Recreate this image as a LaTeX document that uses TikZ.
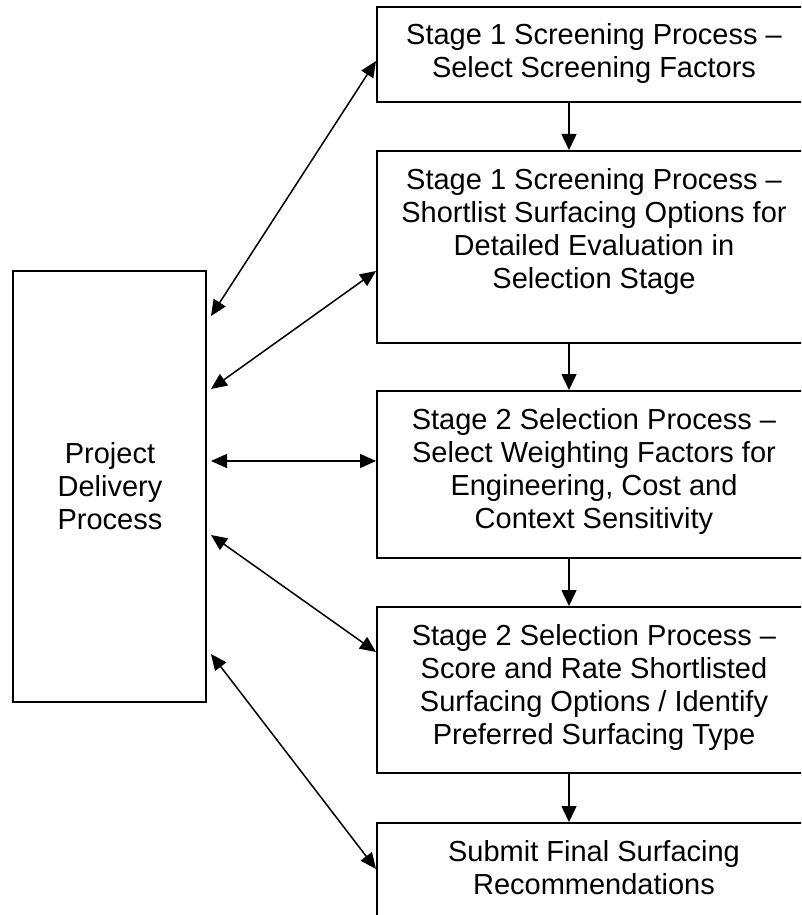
\documentclass[tikz,border=0pt]{standalone}
\usepackage{fontspec}
\setmainfont{Liberation Sans}
\usetikzlibrary{arrows.meta}
\begin{document}
\begin{tikzpicture}[x=1pt,y=-1pt,
  box/.style={draw,line width=2pt,inner sep=0pt,minimum width=434pt},
  lbox/.style={draw,line width=2pt,inner sep=0pt,minimum width=193pt,minimum height=431pt},
  txt/.style={align=center,inner sep=0pt,font=\fontsize{29}{33}\selectfont},
  conn/.style={line width=1.5pt,-{Triangle[length=16pt,width=15pt]}},
  bconn/.style={line width=1.5pt,{Triangle[length=16pt,width=14pt]}-{Triangle[length=16pt,width=14pt]}}]
\useasboundingbox (0,0) rectangle (801,915);
\clip (0,0) rectangle (801,915);
\fill[white] (0,0) rectangle (801,915);
\node[lbox] (L) at (109.5,486.5) {};
\node[txt] (Lt) at (110,486) {Project\\Delivery\\Process};
\node[box,minimum height=95pt] (B1) at (594,54.5) {};
\node[box,minimum height=192pt] (B2) at (594,247) {};
\node[box,minimum height=167pt] (B3) at (594,474.5) {};
\node[box,minimum height=166pt] (B4) at (594,690) {};
\node[box,minimum height=100pt] (B5) at (594,873) {};
\node[txt] (T1) at (594,53.5) {Stage 1 Screening Process –\\Select Screening Factors};
\node[txt] (T2) at (594,231) {Stage 1 Screening Process –\\Shortlist Surfacing Options for\\Detailed Evaluation in\\Selection Stage};
\node[txt] (T3) at (594,471) {Stage 2 Selection Process –\\Select Weighting Factors for\\Engineering, Cost and\\Context Sensitivity};
\node[txt] (T4) at (594,687) {Stage 2 Selection Process –\\Score and Rate Shortlisted\\Surfacing Options / Identify\\Preferred Surfacing Type};
\node[txt] (T5) at (594,867.5) {Submit Final Surfacing\\Recommendations};
% vertical flow
\draw[conn] ([xshift=193pt]B1.south west) -- ([xshift=193pt]B2.north west);
\draw[conn] ([xshift=193pt]B2.south west) -- ([xshift=193pt]B3.north west);
\draw[conn] ([xshift=193pt]B3.south west) -- ([xshift=193pt]B4.north west);
\draw[conn] ([xshift=193pt]B4.south west) -- ([xshift=193pt]B5.north west);
% two-way links
\draw[bconn] ([shift={(4pt,-46pt)}]L.north east) -- ([yshift=-55pt]B1.north west);
\draw[bconn] ([shift={(4pt,-119pt)}]L.north east) -- ([yshift=-121pt]B2.north west);
\draw[bconn] ([shift={(4pt,-191pt)}]L.north east) -- ([yshift=-71pt]B3.north west);
\draw[bconn] ([shift={(4pt,-265pt)}]L.north east) -- ([yshift=-46pt]B4.north west);
\draw[bconn] ([shift={(4pt,-384pt)}]L.north east) -- ([yshift=-47pt]B5.north west);
\end{tikzpicture}
\end{document}
